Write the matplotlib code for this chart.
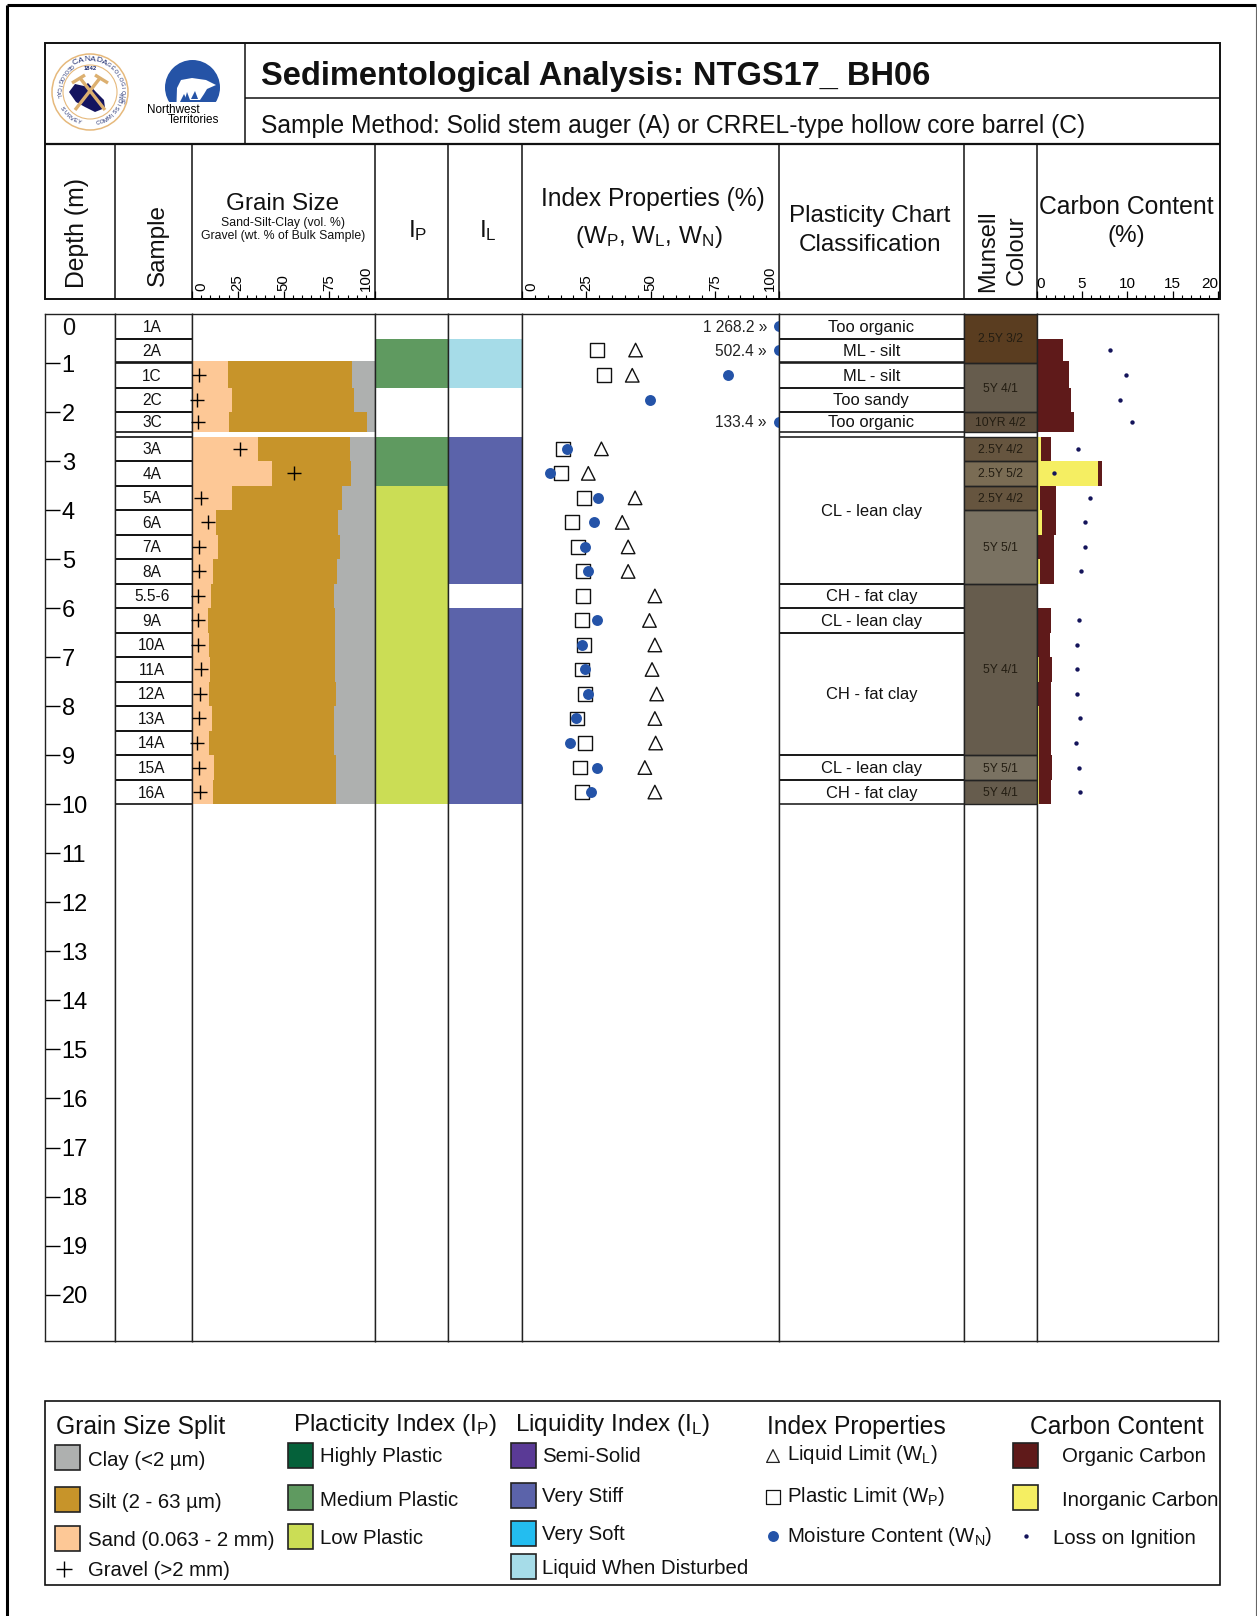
import numpy as np
import matplotlib
matplotlib.use('Agg')
import matplotlib.pyplot as plt
from matplotlib.patches import Circle, Polygon, Rectangle
from matplotlib.transforms import ScaledTranslation

plt.rcParams['font.family'] = ['Liberation Sans', 'DejaVu Sans']
plt.rcParams['mathtext.fontset'] = 'custom'
plt.rcParams['mathtext.rm'] = 'Liberation Sans'
plt.rcParams['mathtext.it'] = 'Liberation Sans:italic'
plt.rcParams['mathtext.bf'] = 'Liberation Sans:bold'

nan = np.nan

# samples
samples = ['1A', '2A', '1C', '2C', '3C', '3A', '4A', '5A', '6A', '7A', '8A', '5.5-6',
           '9A', '10A', '11A', '12A', '13A', '14A', '15A', '16A']
tops = [0, 0.5, 1.0, 1.5, 2.0, 2.5, 3.0, 3.5, 4.0, 4.5, 5.0, 5.5, 6.0, 6.5, 7.0, 7.5, 8.0, 8.5, 9.0, 9.5]
bases = [0.5, 0.97, 1.5, 2.0, 2.4, 3.0, 3.5, 4.0, 4.5, 5.0, 5.5, 6.0, 6.5, 7.0, 7.5, 8.0, 8.5, 9.0, 9.5, 10.0]
# measured bars of 1C start a little above the sample box
bar_tops = [0, 0.5, 0.96, 1.5, 2.0, 2.5, 3.0, 3.5, 4.0, 4.5, 5.0, 5.5, 6.0, 6.5, 7.0, 7.5, 8.0, 8.5, 9.0, 9.5]

# grain size, cumulative % from the left
sand = [nan, nan, 19.5, 21.8, 20.4, 36.2, 43.8, 21.8, 13.3, 14.2, 11.5, 10.5, 8.9, 9.5, 10.0, 9.5, 10.9, 9.5, 11.8, 11.5]
sand_silt = [nan, nan, 87.6, 88.5, 95.5, 86.4, 87.1, 82.0, 79.6, 80.9, 79.5, 77.6, 78.0, 78.2, 78.2, 78.5, 77.6, 77.6, 78.5, 78.5]
gravel = [nan, nan, 3.6, 2.9, 3.1, 26.0, 55.5, 5.1, 8.7, 3.6, 4.0, 3.3, 3.3, 3.3, 4.7, 4.4, 4.0, 2.5, 4.0, 4.4]

# index properties
wp = [nan, 29.2, 31.8, nan, nan, 16.1, 15.2, 24.2, 19.5, 21.8, 23.6, 23.8, 23.3, 24.2, 23.4, 24.5, 21.5, 24.5, 22.4, 23.4]
wl = [nan, 44.2, 42.9, nan, nan, 30.9, 25.8, 44.0, 39.0, 41.3, 41.3, 51.7, 49.6, 51.7, 50.6, 52.4, 51.7, 52.0, 47.8, 51.7]
wn = [1268.2, 502.4, 80.1, 49.7, 133.4, 17.5, 10.9, 29.7, 28.1, 24.7, 25.6, nan, 29.0, 23.3, 24.7, 25.6, 21.1, 18.8, 29.0, 26.8]
off_labels = ['1 268.2 »', '502.4 »', '', '', '133.4 »'] + [''] * 15

# carbon
inorganic = [nan, 0, 0, 0.15, 0, 0.5, 6.75, 0.4, 0.65, 0.2, 0.35, nan, 0.2, 0.15, 0.3, 0.15, 0.25, 0.25, 0.25, 0.3]
total_carbon = [nan, 2.9, 3.6, 3.8, 4.15, 1.6, 7.2, 2.1, 2.2, 1.9, 1.9, nan, 1.6, 1.5, 1.7, 1.6, 1.6, 1.6, 1.7, 1.6]
loi = [nan, 8.05, 9.9, 9.2, 10.5, 4.6, 1.9, 5.9, 5.3, 5.3, 4.85, nan, 4.7, 4.5, 4.5, 4.5, 4.75, 4.4, 4.7, 4.75]

# interval columns
ip_tops = [0.5, 2.5, 3.5]
ip_bases = [1.5, 3.5, 10.0]
ip_names = ['Medium Plastic', 'Medium Plastic', 'Low Plastic']
il_tops = [0.5, 2.5, 6.0]
il_bases = [1.5, 5.5, 10.0]
il_names = ['Liquid When Disturbed', 'Very Stiff', 'Very Stiff']
class_names = ['Too organic', 'ML - silt', 'ML - silt', 'Too sandy', 'Too organic', 'CL - lean clay',
               'CH - fat clay', 'CL - lean clay', 'CH - fat clay', 'CL - lean clay', 'CH - fat clay']
class_tops = [0, 0.5, 1.0, 1.5, 2.0, 2.5, 5.5, 6.0, 6.5, 9.0, 9.5]
class_bases = [0.5, 0.97, 1.5, 2.0, 2.4, 5.5, 6.0, 6.5, 9.0, 9.5, 10.0]
munsell_names = ['2.5Y 3/2', '5Y 4/1', '10YR 4/2', '2.5Y 4/2', '2.5Y 5/2', '2.5Y 4/2', '5Y 5/1', '5Y 4/1', '5Y 5/1', '5Y 4/1']
munsell_tops = [0, 1.0, 2.0, 2.5, 3.0, 3.5, 4.0, 5.5, 9.0, 9.5]
munsell_bases = [1.0, 2.0, 2.4, 3.0, 3.5, 4.0, 5.5, 9.0, 9.5, 10.0]

colors = {
    'Clay': '#aeb0af', 'Silt': '#c7942a', 'Sand': '#fdc896',
    'Highly Plastic': '#05613a', 'Medium Plastic': '#5f9a60', 'Low Plastic': '#cbdd55',
    'Semi-Solid': '#5a3a96', 'Very Stiff': '#5b63aa', 'Very Soft': '#23bdf0',
    'Liquid When Disturbed': '#a6dce8', 'Organic': '#5f1a1a', 'Inorganic': '#f5ee62',
    'WN': '#2453a8', 'LOI': '#14145a',
}
munsell_colors = {'2.5Y 3/2': '#5a3d20', '5Y 4/1': '#665c4d', '10YR 4/2': '#5e4f3d', '2.5Y 4/2': '#66553f',
                  '2.5Y 5/2': '#7a6c54', '5Y 5/1': '#7a7262'}

W, H = 1257, 1616
col_x = [45, 115, 192, 375, 448, 522, 779, 963.5, 1036.5, 1218]
head_right = 1220
body_top, body_bot = 314, 1341
px_per_m = 49.03
max_depth = (body_bot - body_top) / px_per_m

fig = plt.figure(figsize=(W / 100, H / 100), dpi=100)

# full page axes in pixels, for the frames, header texts, logos and legend
bg = fig.add_axes([0, 0, 1, 1])
bg.set_xlim(0, W)
bg.set_ylim(H, 0)
bg.axis('off')


def px_axes(x0, x1, y0, y1):
    return fig.add_axes([x0 / W, 1 - y1 / H, (x1 - x0) / W, (y1 - y0) / H])


def line(x0, y0, x1, y1, lw=1.1, color='#111111'):
    bg.plot([x0, x1], [y0, y1], color=color, lw=lw, solid_capstyle='butt')


def label(x, y, s, size=17.5, ha='left', **kw):
    bg.text(x, y + 3, s, fontsize=size, ha=ha, va='center', color='#111111', **kw)


def vlabel(x, y, s, size=17.5):
    bg.text(x, y, s, fontsize=size, ha='left', va='center', color='#111111', rotation=90, rotation_mode='anchor')


def column(i):
    ax = px_axes(col_x[i], col_x[i + 1], body_top, body_bot)
    ax.set_ylim(max_depth, 0)
    ax.set_xticks([])
    ax.set_yticks([])
    for s in ax.spines.values():
        s.set_linewidth(1.0)
        s.set_color('#222222')
    return ax


def scale_axis(i, x_max, major, minor, size=10.8, rotation=90):
    ax = px_axes(col_x[i], col_x[i + 1], 298, 299)
    ax.set_xlim(0, x_max)
    ax.set_yticks([])
    ax.patch.set_alpha(0)
    for k in ['left', 'right', 'top']:
        ax.spines[k].set_visible(False)
    ax.spines['bottom'].set_linewidth(1.3)
    ax.xaxis.tick_top()
    ax.set_xticks(np.arange(0, x_max + 1, major))
    ax.set_xticks(np.arange(0, x_max + 1, minor), minor=True)
    ax.tick_params(axis='x', which='major', length=4.8, width=0.9, pad=0.5, labelsize=size, labelrotation=rotation)
    ax.tick_params(axis='x', which='minor', length=2.0, width=0.8)
    return ax


def nudge_ends(ax, px):
    # end labels of the scale sit inside the column
    labs = ax.get_xticklabels()
    for lab, d in ((labs[0], px), (labs[-1], -px)):
        lab.set_transform(lab.get_transform() + ScaledTranslation(d / 100, 0, fig.dpi_scale_trans))


# page frame
line(7, 5, 7, H, lw=2.2, color='black')
line(7, 5, 1256, 5, lw=2.2, color='black')
line(1256, 5, 1256, H, lw=0.8, color='#666666')

# header boxes
bg.add_patch(Rectangle((45, 43), head_right - 45, 256, fill=False, ec='#111111', lw=1.4))
line(245, 43, 245, 144)
line(245, 98, head_right, 98)
line(45, 144, head_right, 144, lw=1.6)
for x in col_x[1:-1]:
    line(x, 144, x, 299)

label(261, 73, 'Sedimentological Analysis: NTGS17_ BH06', size=23.5, fontweight='bold')
label(261, 122.5, 'Sample Method: Solid stem auger (A) or CRREL-type hollow core barrel (C)', size=17.7)

vlabel(77, 288, 'Depth (m)', size=17.8)
vlabel(158, 286, 'Sample')
label(283, 201, 'Grain Size', ha='center')
label(283, 220, 'Sand-Silt-Clay (vol. %)', size=8.8, ha='center')
label(283, 233, 'Gravel (wt. % of Bulk Sample)', size=8.8, ha='center')
label(418, 228, r'I$_{\mathrm{P}}$', ha='center')
label(488, 228, r'I$_{\mathrm{L}}$', ha='center')
label(653, 196, 'Index Properties (%)', size=17.7, ha='center')
label(649, 234, r'(W$_{\mathrm{P}}$, W$_{\mathrm{L}}$, W$_{\mathrm{N}}$)', ha='center')
label(870, 213, 'Plasticity Chart', ha='center')
label(870, 242, 'Classification', ha='center')
vlabel(988, 292, 'Munsell', size=17)
vlabel(1017, 285, 'Colour', size=17)
label(1126, 204, 'Carbon Content', size=17.8, ha='center')
label(1126, 233, '(%)', ha='center')

# Canadian survey seal
seal_x, seal_y = 90, 92
bg.add_patch(Circle((seal_x, seal_y), 38, fc='white', ec='#e6b97c', lw=1.1))
bg.add_patch(Circle((seal_x, seal_y), 27, fc='white', ec='#e6b97c', lw=0.8))
bg.add_patch(Polygon([(69, 92), (75, 84), (84, 86), (88, 83), (96, 92), (104, 100), (105, 108), (95, 112),
                      (85, 107), (76, 102)], closed=True, fc='#14145f', ec='none'))
bg.plot([75, 100], [110, 78], color='#dcb070', lw=2.4, solid_capstyle='butt')
bg.plot([105, 80], [110, 78], color='#dcb070', lw=2.4, solid_capstyle='butt')
bg.plot([95, 108], [75, 83], color='#dcb070', lw=2.4, solid_capstyle='butt')
bg.plot([72, 85], [83, 75], color='#dcb070', lw=2.4, solid_capstyle='butt')


def arc_text(s, start, step, radius, size=4.0, flip=False):
    for k, ch in enumerate(s):
        a = np.deg2rad(start + k * step)
        cx = seal_x + radius * np.sin(a)
        cy = seal_y - radius * np.cos(a)
        rot = -np.rad2deg(a) + (180 if flip else 0)
        bg.text(cx, cy, ch, fontsize=size, color='#1c2a6e', ha='center', va='center', rotation=rot)


arc_text('CANADA', -26, 10.5, 32.5, size=6)
arc_text('GÉOLOGIQUE', 35, 8, 32.5)
arc_text('COMMISSION', 165, -7.5, 32.5, flip=True)
arc_text('SURVEY', 238, -7.5, 32.5, flip=True)
arc_text('GEOLOGICAL', 325, -7, 32.5, flip=True)
bg.text(seal_x, 69, '1842', fontsize=4.2, ha='center', va='center', color='#1c2a6e', fontweight='bold')

# NWT logo
bear_disc = Circle((192.5, 87.5), 27.5, fc='#2553a6', ec='none')
bg.add_patch(bear_disc)
bear_disc.set_clip_path(Rectangle((160, 55), 70, 47, transform=bg.transData))
bg.add_patch(Polygon([(176.5, 103), (177, 88), (181, 80), (192, 78), (206, 80), (216, 85), (207, 89), (204, 94),
                      (200, 100), (190, 100), (187, 92), (184, 103)], closed=True, fc='white', ec='none'))
bg.add_patch(Polygon([(180, 102), (184, 94), (188, 102)], closed=True, fc='#2553a6', ec='none'))
bg.add_patch(Polygon([(191, 99), (195, 91), (198, 99)], closed=True, fc='#2553a6', ec='none'))
bg.text(147, 110, 'Northwest', fontsize=8.4, ha='left', va='center', color='black')
bg.text(168, 120, 'Territories', fontsize=8.4, ha='left', va='center', color='black')

# depth column
ax_depth = column(0)
ax_depth.set_xlim(0, 1)
ax_depth.set_yticks(range(1, 21))
ax_depth.tick_params(axis='y', direction='in', length=10.5, width=1, pad=-12, labelsize=17)
plt.setp(ax_depth.get_yticklabels(), ha='left')
ax_depth.text(0.24, 0.3, '0', fontsize=17, ha='left', va='center', color='#111111')

# sample column
ax_sample = column(1)
ax_sample.set_xlim(0, 1)
for name, t, b in zip(samples, tops, bases):
    ax_sample.hlines([t, b], 0, 1, color='#111111', lw=1.2)
    ax_sample.text(0.48, (t + b) / 2 + 0.02, name, fontsize=11.2, ha='center', va='center', color='#111111')

# grain size
ax_grain = column(2)
ax_grain.set_xlim(0, 100)
heights = np.array(bases) - np.array(bar_tops)
sand_arr = np.array(sand)
silt_end = np.array(sand_silt)
ax_grain.barh(bar_tops, sand_arr, height=heights, align='edge', color=colors['Sand'], lw=0)
ax_grain.barh(bar_tops, silt_end - sand_arr, left=sand_arr, height=heights, align='edge', color=colors['Silt'], lw=0)
ax_grain.barh(bar_tops, 100 - silt_end, left=silt_end, height=heights, align='edge', color=colors['Clay'], lw=0)
mids = (np.array(tops) + np.array(bases)) / 2
ax_grain.scatter(gravel, mids, marker='+', s=110, color='black', linewidths=1.0, zorder=3, clip_on=False)
nudge_ends(scale_axis(2, 100, 25, 5), 9)

# plasticity and liquidity index
ax_ip = column(3)
ax_ip.set_xlim(0, 1)
for name, t, b in zip(ip_names, ip_tops, ip_bases):
    ax_ip.barh(t, 1, height=b - t, align='edge', color=colors[name], lw=0)
ax_il = column(4)
ax_il.set_xlim(0, 1)
for name, t, b in zip(il_names, il_tops, il_bases):
    ax_il.barh(t, 1, height=b - t, align='edge', color=colors[name], lw=0)

# index properties
ax_idx = column(5)
ax_idx.set_xlim(0, 100)
wn_arr = np.minimum(np.array(wn), 100)
ax_idx.scatter(wp, mids, marker='s', s=100, facecolors='none', edgecolors='#111111', linewidths=1.0, zorder=3)
ax_idx.scatter(wl, mids, marker='^', s=95, facecolors='none', edgecolors='#111111', linewidths=1.0, zorder=3)
ax_idx.scatter(wn_arr, mids, marker='o', s=62, color=colors['WN'], lw=0, zorder=4)
for s, y in zip(off_labels, mids):
    if s:
        ax_idx.text(95.3, y + 0.02, s, fontsize=11.2, ha='right', va='center', color='#222222')
nudge_ends(scale_axis(5, 100, 25, 5), 9)

# plasticity chart classification
ax_class = column(6)
ax_class.set_xlim(0, 1)
for name, t, b in zip(class_names, class_tops, class_bases):
    ax_class.hlines([t, b], 0, 1, color='#111111', lw=1.1)
    ax_class.text(0.5, (t + b) / 2 + 0.02, name, fontsize=11.9, ha='center', va='center', color='#111111')

# munsell colour
ax_mun = column(7)
ax_mun.set_xlim(0, 1)
for name, t, b in zip(munsell_names, munsell_tops, munsell_bases):
    ax_mun.barh(t, 1, height=b - t, align='edge', color=munsell_colors[name], lw=0)
    ax_mun.hlines([t, b], 0, 1, color='#222222', lw=1.0)
    ax_mun.text(0.5, (t + b) / 2 + 0.02, name, fontsize=8.7, ha='center', va='center', color='#231d12')

# carbon content
ax_c = column(8)
ax_c.set_xlim(0, 20)
inorg = np.array(inorganic)
total = np.array(total_carbon)
ax_c.barh(bar_tops, inorg, height=heights, align='edge', color=colors['Inorganic'], lw=0)
ax_c.barh(bar_tops, total - inorg, left=inorg, height=heights, align='edge', color=colors['Organic'], lw=0)
ax_c.scatter(loi, mids, marker='o', s=10, color=colors['LOI'], lw=0, zorder=3)
ax_scale = scale_axis(8, 20, 5, 1, size=11, rotation=0)
tick_text = ax_scale.get_xticklabels()
tick_text[0].set_ha('left')
tick_text[-1].set_ha('right')

# legend
bg.add_patch(Rectangle((45, 1401), 1175, 184, fill=False, ec='#111111', lw=1.2))


def swatch(x, y, name):
    bg.add_patch(Rectangle((x, y), 25, 24.5, fc=colors[name], ec='#222222', lw=1.2))


label(56, 1424, 'Grain Size Split', size=17.7)
swatch(55, 1445, 'Clay')
label(88.5, 1457, 'Clay (<2 µm)', size=14.7)
swatch(55, 1487, 'Silt')
label(88.5, 1500, 'Silt (2 - 63 µm)', size=14.7)
swatch(55, 1526, 'Sand')
label(88.5, 1537, 'Sand (0.063 - 2 mm)', size=14.7)
bg.scatter([64], [1569], marker='+', s=130, color='black', linewidths=1.0)
label(88.5, 1568, 'Gravel (>2 mm)', size=14.7)

label(293, 1421.5, r'Placticity Index (I$_{\mathrm{P}}$)', size=17.5)
for y, ty, name in zip([1443, 1485, 1524], [1454, 1497, 1535], ['Highly Plastic', 'Medium Plastic', 'Low Plastic']):
    swatch(288, y, name)
    label(320, ty, name, size=14.7)

label(515, 1421.5, r'Liquidity Index (I$_{\mathrm{L}}$)', size=17.5)
for y, ty, name in zip([1443, 1483, 1521, 1554], [1454, 1494, 1532, 1566],
                       ['Semi-Solid', 'Very Stiff', 'Very Soft', 'Liquid When Disturbed']):
    swatch(511, y, name)
    label(542.5, ty, name, size=14.7)

label(767, 1424, 'Index Properties', size=17.7)
bg.scatter([773], [1456], marker='^', s=85, facecolors='none', edgecolors='#222222', linewidths=0.9)
label(787, 1452, r'Liquid Limit (W$_{\mathrm{L}}$)', size=14.7)
bg.scatter([773], [1497], marker='s', s=95, facecolors='none', edgecolors='#111111', linewidths=0.9)
label(787, 1494, r'Plastic Limit (W$_{\mathrm{P}}$)', size=14.7)
bg.scatter([773], [1536], marker='o', s=62, color=colors['WN'], lw=0)
label(787, 1533, r'Moisture Content (W$_{\mathrm{N}}$)', size=14.7)

label(1030, 1424, 'Carbon Content', size=17.7)
swatch(1013, 1443, 'Organic')
label(1062, 1454, 'Organic Carbon', size=14.7)
swatch(1013, 1485, 'Inorganic')
label(1062, 1497, 'Inorganic Carbon', size=14.7)
bg.scatter([1026], [1536], marker='o', s=10, color=colors['LOI'], lw=0)
label(1053, 1535, 'Loss on Ignition', size=14.7)

fig.savefig('out.png', dpi=100)
